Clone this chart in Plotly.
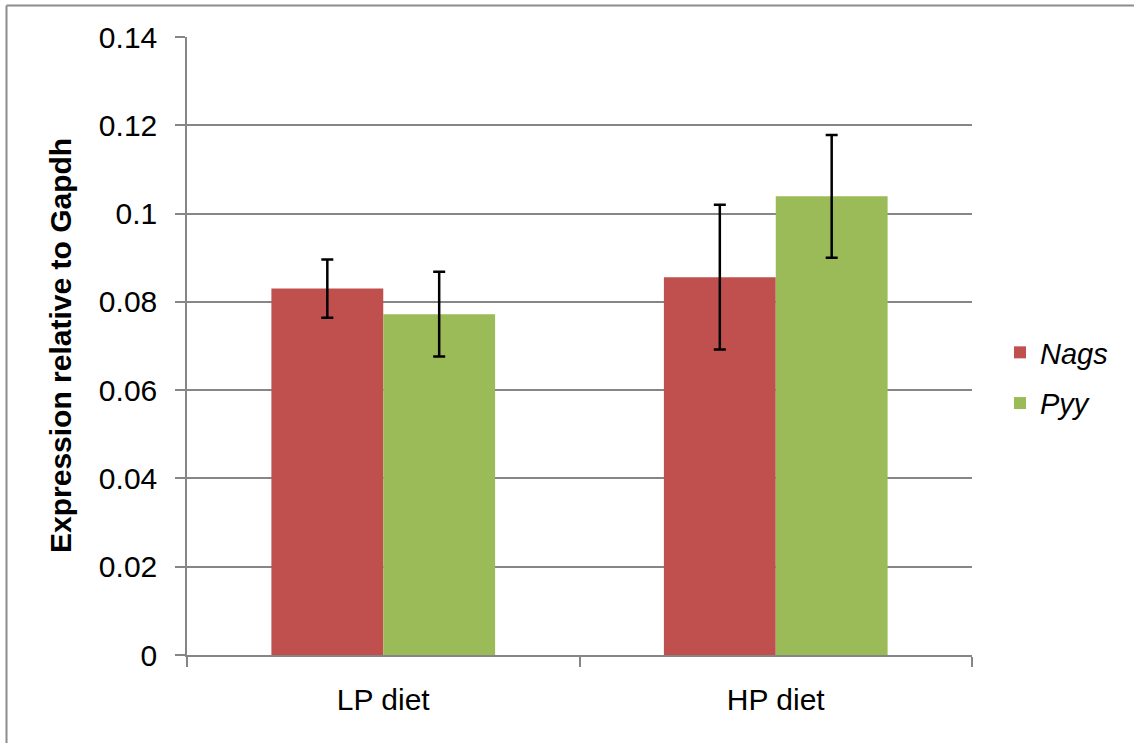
import plotly.graph_objects as go

categories = ["LP diet", "HP diet"]
series_names = ["Nags", "Pyy"]
nags_values = [0.0830, 0.0856]
nags_errors = [0.0066, 0.0164]
pyy_values = [0.0772, 0.1039]
pyy_errors = [0.0096, 0.0139]
y_ticks = [0, 0.02, 0.04, 0.06, 0.08, 0.1, 0.12, 0.14]
y_tick_labels = ["0", "0.02", "0.04", "0.06", "0.08", "0.1", "0.12", "0.14"]

colors = ["#C0504D", "#9BBB59"]
FONT = "Arial, Liberation Sans, sans-serif"

fig = go.Figure()
for i, (name, vals, errs) in enumerate(zip(series_names, [nags_values, pyy_values], [nags_errors, pyy_errors])):
    fig.add_trace(go.Bar(
        x=categories, y=vals, name=name,
        marker=dict(color=colors[i], line=dict(width=0)),
        error_y=dict(type="data", array=errs, visible=True, color="black", thickness=2.5, width=6),
        legendgroup=name,
    ))

W, H = 1134, 743
L, R, T, B = 187, 162, 37, 88
pw = W - L - R
ph = H - T - B

def px_x(x):
    return (x - L) / pw

def px_y(y):
    return (H - B - y) / ph

fig.update_layout(
    width=W, height=H,
    margin=dict(l=L, r=R, t=T, b=B, pad=0),
    paper_bgcolor="white", plot_bgcolor="white",
    barmode="group", bargap=0.43, bargroupgap=0,
    font=dict(family=FONT, size=30, color="black"),
    showlegend=True,
    legend=dict(
        x=px_x(1000), y=px_y(378), xanchor="left", yanchor="middle",
        font=dict(family=FONT, size=29, color="black", style="italic"),
        tracegroupgap=10, bgcolor="rgba(0,0,0,0)",
    ),
    xaxis=dict(
        type="category", showgrid=False, showline=True, linecolor="#868686", linewidth=1.5,
        ticks="outside", ticklen=10, tickcolor="#868686", tickwidth=1.5, tickson="boundaries",
        tickfont=dict(family=FONT, size=30, color="black"), fixedrange=True,
        ticklabelstandoff=17,
    ),
    yaxis=dict(
        range=[0, 0.14], tickvals=y_ticks, ticktext=y_tick_labels,
        showgrid=True, gridcolor="#868686", gridwidth=1.5,
        showline=True, linecolor="#868686", linewidth=1.5,
        ticks="outside", ticklen=10, tickcolor="#868686", tickwidth=1.5,
        tickfont=dict(family=FONT, size=30, color="black"), zeroline=False,
        ticklabelstandoff=12,
    ),
    annotations=[dict(
        text="<b>Expression relative to Gapdh</b>", textangle=-90,
        xref="paper", yref="paper", x=px_x(60), y=0.5, xanchor="center", yanchor="middle",
        showarrow=False, font=dict(family=FONT, size=30, color="black"),
    )],
    shapes=[
        dict(type="line", xref="paper", yref="paper", x0=px_x(6.5), x1=px_x(6.5), y0=px_y(760), y1=px_y(5.5),
             line=dict(color="#8c8c8c", width=2)),
        dict(type="line", xref="paper", yref="paper", x0=px_x(6.5), x1=px_x(1150), y0=px_y(5.5), y1=px_y(5.5),
             line=dict(color="#8c8c8c", width=2)),
    ],
)

fig.write_html("out.html", config={"displayModeBar": False},
               post_script="document.body.style.margin='0px';document.body.style.overflow='hidden';")
